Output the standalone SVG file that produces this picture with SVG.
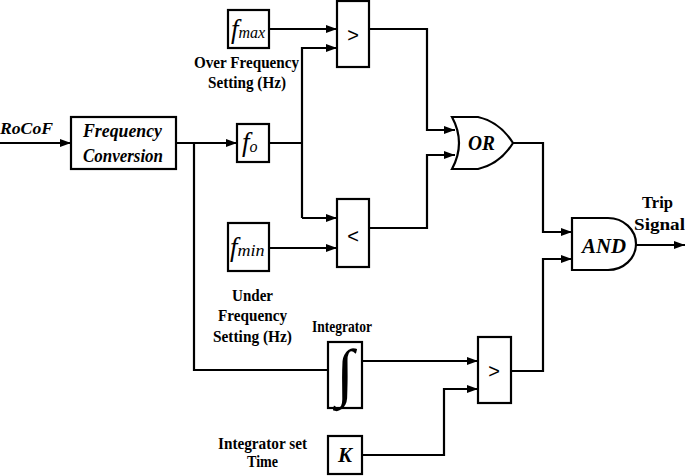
<svg xmlns="http://www.w3.org/2000/svg" width="685" height="476" viewBox="0 0 685 476">
<style>
.box{fill:#fff;stroke:#000;stroke-width:2.2}
.ln{fill:none;stroke:#000;stroke-width:2.2}
.lbl{font-family:'Liberation Serif','Times New Roman',serif;font-weight:bold;font-size:16.5px;fill:#000}
.it{font-family:'Liberation Serif','Times New Roman',serif;font-style:italic;font-weight:bold;fill:#000}
.sym{font-family:'Liberation Sans',Arial,sans-serif;font-size:20px;text-anchor:middle;fill:#000}
.f{font-family:'Liberation Serif','Times New Roman',serif;font-style:italic;fill:#000}
</style>
<defs>
<marker id="ah" markerWidth="11" markerHeight="8" refX="11" refY="4" orient="auto" markerUnits="userSpaceOnUse">
<path d="M0,0 L11,4 L0,8 Z" fill="#000"/>
</marker>
</defs>
<g id="connectors">
<path class="ln" d="M0,143 H71" marker-end="url(#ah)"/>
<path class="ln" d="M176,143 H237" marker-end="url(#ah)"/>
<path class="ln" d="M194,143 V370 H328"/>
<path class="ln" d="M269,29 H337" marker-end="url(#ah)"/>
<path class="ln" d="M269,143 H302"/>
<path class="ln" d="M337,48 H302 V218"/>
<path class="ln" d="M302,48 H337" marker-end="url(#ah)"/>
<path class="ln" d="M302,218 H337" marker-end="url(#ah)"/>
<path class="ln" d="M269,248 H337" marker-end="url(#ah)"/>
<path class="ln" d="M369,29 H427 V130 H455" marker-end="url(#ah)"/>
<path class="ln" d="M369,228 H427 V155 H455" marker-end="url(#ah)"/>
<path class="ln" d="M513,143 H543 V232 H572" marker-end="url(#ah)"/>
<path class="ln" d="M362,361 H478" marker-end="url(#ah)"/>
<path class="ln" d="M362,455 H444 V389 H478" marker-end="url(#ah)"/>
<path class="ln" d="M511,371 H543 V259 H572" marker-end="url(#ah)"/>
<path class="ln" d="M636,245 H685" marker-end="url(#ah)"/>
</g>
<g id="rocof"><text class="it" x="0" y="134" font-size="17" textLength="53" lengthAdjust="spacingAndGlyphs">RoCoF</text></g>
<g id="freq-conv">
<rect class="box" x="71" y="117" width="105" height="52"/>
<text class="it" x="83" y="137" font-size="19" textLength="79" lengthAdjust="spacingAndGlyphs">Frequency</text>
<text class="it" x="83" y="162" font-size="19" textLength="80" lengthAdjust="spacingAndGlyphs">Conversion</text>
</g>
<g id="fmax">
<rect class="box" x="228" y="10" width="41" height="38"/>
<text x="231" y="38"><tspan class="f" font-size="27">f</tspan><tspan class="f" font-size="16">max</tspan></text>
<text class="lbl" x="194" y="68" textLength="105" lengthAdjust="spacingAndGlyphs">Over Frequency</text>
<text class="lbl" x="208" y="88" textLength="78" lengthAdjust="spacingAndGlyphs">Setting (Hz)</text>
</g>
<g id="fo">
<rect class="box" x="237" y="124" width="32" height="38"/>
<text x="242" y="151"><tspan class="f" font-size="27">f</tspan><tspan class="f" font-size="16" dy="1">o</tspan></text>
</g>
<g id="fmin">
<rect class="box" x="228" y="223" width="41" height="48"/>
<text x="230" y="256"><tspan class="f" font-size="27">f</tspan><tspan class="f" font-size="16" textLength="27" lengthAdjust="spacingAndGlyphs">min</tspan></text>
<text class="lbl" x="232" y="301" textLength="41" lengthAdjust="spacingAndGlyphs">Under</text>
<text class="lbl" x="218" y="321" textLength="69" lengthAdjust="spacingAndGlyphs">Frequency</text>
<text class="lbl" x="213" y="342" textLength="79" lengthAdjust="spacingAndGlyphs">Setting (Hz)</text>
</g>
<g id="gt1">
<rect class="box" x="337" y="1" width="32" height="66"/>
<text class="sym" x="353" y="42">&gt;</text>
</g>
<g id="lt">
<rect class="box" x="337" y="199" width="32" height="68"/>
<text class="sym" x="353" y="243">&lt;</text>
</g>
<g id="or">
<path class="box" d="M452,117 L478,117 Q500,122 513,143 Q500,164 478,169 L452,169 Q466,143 452,117 Z"/>
<text class="it" x="468" y="150" font-size="21" textLength="27" lengthAdjust="spacingAndGlyphs">OR</text>
</g>
<g id="and">
<path class="box" d="M572,218 L608,218 A28,26 0 0 1 608,270 L572,270 Z"/>
<text class="it" x="582" y="253" font-size="21" textLength="44" lengthAdjust="spacingAndGlyphs">AND</text>
<text class="lbl" x="642" y="208" textLength="31" lengthAdjust="spacingAndGlyphs">Trip</text>
<text class="lbl" x="634" y="230" textLength="51" lengthAdjust="spacingAndGlyphs">Signal</text>
</g>
<g id="integrator">
<rect class="box" x="328" y="342" width="34" height="66"/>
<text class="f" x="345" y="394" font-size="64" font-style="normal" text-anchor="middle">∫</text>
<text class="lbl" x="312" y="332" textLength="60" lengthAdjust="spacingAndGlyphs">Integrator</text>
</g>
<g id="gt2">
<rect class="box" x="478" y="337" width="33" height="66"/>
<text class="sym" x="494" y="378">&gt;</text>
</g>
<g id="k">
<rect class="box" x="328" y="436" width="34" height="38"/>
<text class="it" x="345" y="462" font-size="21" text-anchor="middle">K</text>
<text class="lbl" x="218" y="449" textLength="89" lengthAdjust="spacingAndGlyphs">Integrator set</text>
<text class="lbl" x="247" y="467" textLength="31" lengthAdjust="spacingAndGlyphs">Time</text>
</g>
</svg>
